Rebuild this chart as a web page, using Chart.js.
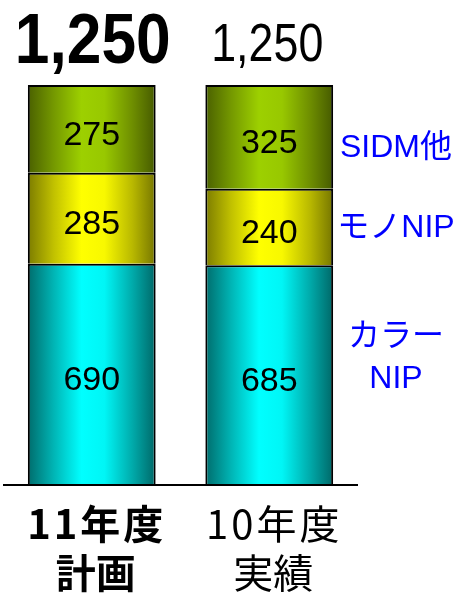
<!DOCTYPE html>
<html>
<head>
<meta charset="utf-8">
<script src="https://cdn.jsdelivr.net/npm/chart.js@4.4.1/dist/chart.umd.min.js"></script>
<style>
  html, body { margin: 0; padding: 0; background: #fff; }
  #wrap { width: 456px; height: 594px; }
</style>
</head>
<body>
<div id="wrap"><canvas id="c" width="456" height="594"></canvas></div>
<script>
// Categories (two-line labels under each bar)
const categories = [['11年度', '計画'], ['10年度', '実績']];
// Series, bottom to top of the stack
const seriesNames = ['カラーNIP', 'モノNIP', 'SIDM他'];
const seriesLabelLines = [['カラー', 'NIP'], ['モノNIP'], ['SIDM他']];
const colorNip = [690, 685];
const monoNip = [285, 240];
const sidmOther = [275, 325];
const yMax = 1250;

// Cylinder-like horizontal shading per series: [edge-left, mid, peak, peak, mid, edge-right]
const shades = [
  ['#006c6c', '#00b4b4', '#00ffff', '#00f6f6', '#00aaaa', '#006868'],
  ['#7c7c00', '#c0c000', '#ffff00', '#f8f800', '#b8b800', '#767600'],
  ['#4a6000', '#749800', '#9dd000', '#98c800', '#6e8e00', '#465a00']
];

const BAR_FRACTION = 0.72;

function barGradient(ctx, si) {
  const chart = ctx.chart;
  const area = chart.chartArea;
  if (!area) return shades[si][2];
  const x = chart.scales.x;
  const cx = x.getPixelForValue(ctx.dataIndex);
  const half = (area.width / categories.length) * BAR_FRACTION / 2;
  const g = chart.ctx.createLinearGradient(cx - half, 0, cx + half, 0);
  const stops = [0, 0.2, 0.42, 0.6, 0.82, 1];
  stops.forEach((s, i) => g.addColorStop(s, shades[si][i]));
  return g;
}

const seriesData = [colorNip, monoNip, sidmOther];

const labelPlugin = {
  id: 'stackLabels',
  afterDatasetsDraw(chart) {
    const c = chart.ctx;
    const area = chart.chartArea;
    const y = chart.scales.y;

    // baseline
    c.save();
    c.strokeStyle = '#000';
    c.lineWidth = 2;
    c.beginPath();
    c.moveTo(area.left, area.bottom + 1);
    c.lineTo(area.right, area.bottom + 1);
    c.stroke();
    c.restore();

    // segment values
    c.save();
    c.fillStyle = '#000';
    c.textAlign = 'center';
    c.textBaseline = 'alphabetic';
    c.font = '34px "Liberation Sans", Arial, sans-serif';
    chart.data.datasets.forEach((ds, di) => {
      const meta = chart.getDatasetMeta(di);
      meta.data.forEach((bar, i) => {
        const mid = (bar.y + bar.base) / 2;
        c.fillText(String(ds.data[i]), bar.x, mid + 16);
      });
    });
    c.restore();

    // totals above bars
    const topMeta = chart.getDatasetMeta(chart.data.datasets.length - 1);
    categories.forEach((cat, i) => {
      const total = seriesData.reduce((s, arr) => s + arr[i], 0);
      const txt = total.toLocaleString('en-US');
      const bar = topMeta.data[i];
      c.save();
      c.fillStyle = '#000';
      c.textAlign = 'center';
      c.textBaseline = 'alphabetic';
      if (i === 0) {
        c.font = 'bold 70px "Liberation Sans", Arial, sans-serif';
        c.translate(bar.x + 1, bar.y - 22);
        c.scale(0.89, 1);
      } else {
        c.font = '53px "Liberation Sans", Arial, sans-serif';
        c.translate(bar.x - 2, bar.y - 24);
        c.scale(0.845, 1);
      }
      c.fillText(txt, 0, 0);
      c.restore();
    });

    // category labels
    categories.forEach((lines, i) => {
      const cx = chart.scales.x.getPixelForValue(i) + 4;
      c.save();
      c.fillStyle = '#000';
      c.textAlign = 'center';
      c.textBaseline = 'alphabetic';
      c.font = (i === 0 ? 'bold ' : '') + '40px "Noto Sans CJK JP", sans-serif';
      c.letterSpacing = '3px';
      c.fillText(lines[0], cx + 1, area.bottom + 55);
      c.letterSpacing = '0px';
      c.fillText(lines[1], cx, area.bottom + 104);
      c.restore();
    });

    // series names beside the last bar
    const lastIdx = categories.length - 1;
    const offsets = [[-29, 13], [10], [20]];
    c.save();
    c.fillStyle = '#0000ff';
    c.textAlign = 'center';
    c.textBaseline = 'alphabetic';
    c.font = '32px "Liberation Sans", "Noto Sans CJK JP", sans-serif';
    seriesLabelLines.forEach((lines, di) => {
      const bar = chart.getDatasetMeta(di).data[lastIdx];
      const mid = (bar.y + bar.base) / 2;
      lines.forEach((t, li) => {
        c.fillText(t, 396, mid + offsets[di][li]);
      });
    });
    c.restore();
  }
};

new Chart(document.getElementById('c'), {
  type: 'bar',
  data: {
    labels: categories,
    datasets: seriesData.map((arr, si) => ({
      label: seriesNames[si],
      data: arr,
      backgroundColor: (ctx) => barGradient(ctx, si),
      borderColor: '#000',
      borderWidth: 2,
      borderSkipped: 'start',
      categoryPercentage: 1,
      barPercentage: BAR_FRACTION
    }))
  },
  options: {
    responsive: false,
    devicePixelRatio: 1,
    animation: false,
    layout: { padding: { left: 3, right: 98, top: 85, bottom: 110 } },
    plugins: { legend: { display: false }, tooltip: { enabled: false } },
    scales: {
      x: { display: false, stacked: true },
      y: { display: false, stacked: true, min: 0, max: yMax }
    }
  },
  plugins: [labelPlugin]
});
</script>
</body>
</html>
